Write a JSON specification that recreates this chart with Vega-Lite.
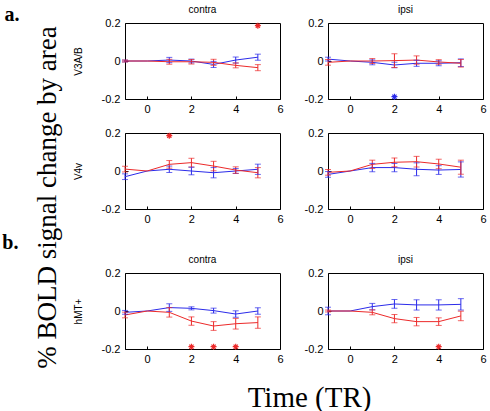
{
  "$schema": "https://vega.github.io/schema/vega-lite/v6.json",
  "padding": {"left": 2, "top": 4, "right": 6, "bottom": 2},
  "background": "#ffffff",
  "datasets": {
    "ts": [
      {"area":"V3A/B","side":"contra","series":"A","t":-1,"m":0,"lo":-0.005,"hi":0.005},
      {"area":"V3A/B","side":"contra","series":"A","t":0,"m":0},
      {"area":"V3A/B","side":"contra","series":"A","t":1,"m":0.005,"lo":-0.009,"hi":0.019},
      {"area":"V3A/B","side":"contra","series":"A","t":2,"m":0,"lo":-0.01,"hi":0.01},
      {"area":"V3A/B","side":"contra","series":"A","t":3,"m":-0.018,"lo":-0.034,"hi":-0.002},
      {"area":"V3A/B","side":"contra","series":"A","t":4,"m":0.005,"lo":-0.011,"hi":0.021},
      {"area":"V3A/B","side":"contra","series":"A","t":5,"m":0.02,"lo":0.004,"hi":0.036},
      {"area":"V3A/B","side":"contra","series":"B","t":-1,"m":0,"lo":-0.005,"hi":0.005},
      {"area":"V3A/B","side":"contra","series":"B","t":0,"m":0},
      {"area":"V3A/B","side":"contra","series":"B","t":1,"m":-0.004,"lo":-0.017,"hi":0.009},
      {"area":"V3A/B","side":"contra","series":"B","t":2,"m":-0.004,"lo":-0.016,"hi":0.008},
      {"area":"V3A/B","side":"contra","series":"B","t":3,"m":-0.007,"lo":-0.023,"hi":0.009},
      {"area":"V3A/B","side":"contra","series":"B","t":4,"m":-0.023,"lo":-0.036,"hi":-0.01},
      {"area":"V3A/B","side":"contra","series":"B","t":5,"m":-0.035,"lo":-0.051,"hi":-0.019},
      {"area":"V3A/B","side":"contra","series":"B","t":5,"star":0.186},

      {"area":"V3A/B","side":"ipsi","series":"A","t":-1,"m":0.01,"lo":0.0,"hi":0.02},
      {"area":"V3A/B","side":"ipsi","series":"A","t":0,"m":0},
      {"area":"V3A/B","side":"ipsi","series":"A","t":1,"m":-0.007,"lo":-0.02,"hi":0.006},
      {"area":"V3A/B","side":"ipsi","series":"A","t":2,"m":-0.021,"lo":-0.035,"hi":-0.007},
      {"area":"V3A/B","side":"ipsi","series":"A","t":3,"m":-0.012,"lo":-0.028,"hi":0.004},
      {"area":"V3A/B","side":"ipsi","series":"A","t":4,"m":-0.012,"lo":-0.025,"hi":0.001},
      {"area":"V3A/B","side":"ipsi","series":"A","t":5,"m":-0.009,"lo":-0.029,"hi":0.011},
      {"area":"V3A/B","side":"ipsi","series":"B","t":-1,"m":-0.007,"lo":-0.022,"hi":0.008},
      {"area":"V3A/B","side":"ipsi","series":"B","t":0,"m":0},
      {"area":"V3A/B","side":"ipsi","series":"B","t":1,"m":0,"lo":-0.013,"hi":0.013},
      {"area":"V3A/B","side":"ipsi","series":"B","t":2,"m":0.002,"lo":-0.034,"hi":0.038},
      {"area":"V3A/B","side":"ipsi","series":"B","t":3,"m":0.005,"lo":-0.017,"hi":0.027},
      {"area":"V3A/B","side":"ipsi","series":"B","t":4,"m":-0.005,"lo":-0.017,"hi":0.007},
      {"area":"V3A/B","side":"ipsi","series":"B","t":5,"m":-0.012,"lo":-0.032,"hi":0.008},
      {"area":"V3A/B","side":"ipsi","series":"A","t":2,"star":-0.188},

      {"area":"V4v","side":"contra","series":"A","t":-1,"m":-0.03,"lo":-0.045,"hi":-0.015},
      {"area":"V4v","side":"contra","series":"A","t":0,"m":0},
      {"area":"V4v","side":"contra","series":"A","t":1,"m":0.009,"lo":-0.008,"hi":0.026},
      {"area":"V4v","side":"contra","series":"A","t":2,"m":0,"lo":-0.02,"hi":0.02},
      {"area":"V4v","side":"contra","series":"A","t":3,"m":-0.009,"lo":-0.036,"hi":0.018},
      {"area":"V4v","side":"contra","series":"A","t":4,"m":0,"lo":-0.013,"hi":0.013},
      {"area":"V4v","side":"contra","series":"A","t":5,"m":0.009,"lo":-0.018,"hi":0.036},
      {"area":"V4v","side":"contra","series":"B","t":-1,"m":0.01,"lo":-0.005,"hi":0.025},
      {"area":"V4v","side":"contra","series":"B","t":0,"m":0},
      {"area":"V4v","side":"contra","series":"B","t":1,"m":0.035,"lo":0.015,"hi":0.055},
      {"area":"V4v","side":"contra","series":"B","t":2,"m":0.044,"lo":0.021,"hi":0.067},
      {"area":"V4v","side":"contra","series":"B","t":3,"m":0.026,"lo":0.001,"hi":0.051},
      {"area":"V4v","side":"contra","series":"B","t":4,"m":0.005,"lo":-0.012,"hi":0.022},
      {"area":"V4v","side":"contra","series":"B","t":5,"m":-0.009,"lo":-0.036,"hi":0.018},
      {"area":"V4v","side":"contra","series":"B","t":1,"star":0.186},

      {"area":"V4v","side":"ipsi","series":"A","t":-1,"m":-0.018,"lo":-0.033,"hi":-0.003},
      {"area":"V4v","side":"ipsi","series":"A","t":0,"m":0},
      {"area":"V4v","side":"ipsi","series":"A","t":1,"m":0.018,"lo":-0.004,"hi":0.04},
      {"area":"V4v","side":"ipsi","series":"A","t":2,"m":0.018,"lo":-0.004,"hi":0.04},
      {"area":"V4v","side":"ipsi","series":"A","t":3,"m":0.009,"lo":-0.025,"hi":0.043},
      {"area":"V4v","side":"ipsi","series":"A","t":4,"m":0.005,"lo":-0.018,"hi":0.028},
      {"area":"V4v","side":"ipsi","series":"A","t":5,"m":0.008,"lo":-0.032,"hi":0.048},
      {"area":"V4v","side":"ipsi","series":"B","t":-1,"m":-0.007,"lo":-0.022,"hi":0.008},
      {"area":"V4v","side":"ipsi","series":"B","t":0,"m":0},
      {"area":"V4v","side":"ipsi","series":"B","t":1,"m":0.035,"lo":0.013,"hi":0.057},
      {"area":"V4v","side":"ipsi","series":"B","t":2,"m":0.046,"lo":0.023,"hi":0.069},
      {"area":"V4v","side":"ipsi","series":"B","t":3,"m":0.049,"lo":0.021,"hi":0.077},
      {"area":"V4v","side":"ipsi","series":"B","t":4,"m":0.037,"lo":0.012,"hi":0.062},
      {"area":"V4v","side":"ipsi","series":"B","t":5,"m":0.02,"lo":-0.017,"hi":0.057},

      {"area":"hMT+","side":"contra","series":"A","t":-1,"m":-0.007,"lo":-0.017,"hi":0.003},
      {"area":"hMT+","side":"contra","series":"A","t":0,"m":0},
      {"area":"hMT+","side":"contra","series":"A","t":1,"m":0.018,"lo":-0.002,"hi":0.038},
      {"area":"hMT+","side":"contra","series":"A","t":2,"m":0.014,"lo":0.006,"hi":0.022},
      {"area":"hMT+","side":"contra","series":"A","t":3,"m":0.002,"lo":-0.011,"hi":0.015},
      {"area":"hMT+","side":"contra","series":"A","t":4,"m":-0.016,"lo":-0.033,"hi":0.001},
      {"area":"hMT+","side":"contra","series":"A","t":5,"m":0,"lo":-0.017,"hi":0.017},
      {"area":"hMT+","side":"contra","series":"B","t":-1,"m":-0.021,"lo":-0.036,"hi":-0.006},
      {"area":"hMT+","side":"contra","series":"B","t":0,"m":0},
      {"area":"hMT+","side":"contra","series":"B","t":1,"m":-0.007,"lo":-0.032,"hi":0.018},
      {"area":"hMT+","side":"contra","series":"B","t":2,"m":-0.053,"lo":-0.075,"hi":-0.031},
      {"area":"hMT+","side":"contra","series":"B","t":3,"m":-0.079,"lo":-0.102,"hi":-0.056},
      {"area":"hMT+","side":"contra","series":"B","t":4,"m":-0.067,"lo":-0.095,"hi":-0.039},
      {"area":"hMT+","side":"contra","series":"B","t":5,"m":-0.061,"lo":-0.091,"hi":-0.031},
      {"area":"hMT+","side":"contra","series":"B","t":2,"star":-0.188},
      {"area":"hMT+","side":"contra","series":"B","t":3,"star":-0.188},
      {"area":"hMT+","side":"contra","series":"B","t":4,"star":-0.188},

      {"area":"hMT+","side":"ipsi","series":"A","t":-1,"m":0,"lo":-0.02,"hi":0.02},
      {"area":"hMT+","side":"ipsi","series":"A","t":0,"m":0},
      {"area":"hMT+","side":"ipsi","series":"A","t":1,"m":0.023,"lo":0.006,"hi":0.04},
      {"area":"hMT+","side":"ipsi","series":"A","t":2,"m":0.037,"lo":0.014,"hi":0.06},
      {"area":"hMT+","side":"ipsi","series":"A","t":3,"m":0.032,"lo":0.005,"hi":0.059},
      {"area":"hMT+","side":"ipsi","series":"A","t":4,"m":0.032,"lo":0.005,"hi":0.059},
      {"area":"hMT+","side":"ipsi","series":"A","t":5,"m":0.035,"lo":0.005,"hi":0.065},
      {"area":"hMT+","side":"ipsi","series":"B","t":-1,"m":0,"lo":-0.005,"hi":0.005},
      {"area":"hMT+","side":"ipsi","series":"B","t":0,"m":0},
      {"area":"hMT+","side":"ipsi","series":"B","t":1,"m":-0.007,"lo":-0.02,"hi":0.006},
      {"area":"hMT+","side":"ipsi","series":"B","t":2,"m":-0.04,"lo":-0.062,"hi":-0.018},
      {"area":"hMT+","side":"ipsi","series":"B","t":3,"m":-0.056,"lo":-0.078,"hi":-0.034},
      {"area":"hMT+","side":"ipsi","series":"B","t":4,"m":-0.056,"lo":-0.076,"hi":-0.036},
      {"area":"hMT+","side":"ipsi","series":"B","t":5,"m":-0.026,"lo":-0.051,"hi":-0.001},
      {"area":"hMT+","side":"ipsi","series":"B","t":4,"star":-0.188}
    ]
  },
  "title": {"text": "% BOLD signal change by area", "orient": "left", "anchor": "middle", "font": "Liberation Serif", "fontSize": 27, "fontWeight": "normal", "color": "#000", "offset": -60, "dx": 11},
  "spacing": 7,
  "vconcat": [
    {
      "title": {"text": "a.", "orient": "left", "anchor": "end", "angle": 0, "align": "right", "baseline": "top", "offset": 38, "dy": 0, "font": "Liberation Serif", "fontSize": 20, "fontWeight": "bold", "color": "#000"},
      "spacing": 11,
      "vconcat": [
        {
          "spacing": 19,
          "hconcat": [
            {
              "width": 155, "height": 76, "title": "contra",
              "data": {"name": "ts"},
              "transform": [{"filter": "datum.area === 'V3A/B' && datum.side === 'contra'"}],
              "encoding": {
                "x": {"field": "t", "type": "quantitative", "scale": {"domain": [-1, 6], "nice": false, "zero": false}, "axis": {"tickCount": 4, "title": null}},
                "color": {"field": "series", "type": "nominal", "scale": {"domain": ["A", "B"], "range": ["#2b2bea", "#ec2a2a"]}, "legend": null}
              },
              "layer": [
                {"transform": [{"filter": "isValid(datum.m)"}], "mark": {"type": "line", "strokeWidth": 1}, "encoding": {"y": {"field": "m", "type": "quantitative", "title": "V3A/B", "scale": {"domain": [-0.2, 0.2], "nice": false, "zero": false}, "axis": {"tickCount": 2, "format": ".1~f"}}}},
                {"transform": [{"filter": "isValid(datum.lo)"}], "mark": {"type": "rule", "strokeWidth": 1}, "encoding": {"y": {"field": "lo", "type": "quantitative", "title": "V3A/B"}, "y2": {"field": "hi"}}},
                {"transform": [{"filter": "isValid(datum.lo)"}], "mark": {"type": "tick", "orient": "horizontal", "size": 6, "thickness": 1}, "encoding": {"y": {"field": "lo", "type": "quantitative", "title": "V3A/B"}}},
                {"transform": [{"filter": "isValid(datum.hi)"}], "mark": {"type": "tick", "orient": "horizontal", "size": 6, "thickness": 1}, "encoding": {"y": {"field": "hi", "type": "quantitative", "title": "V3A/B"}}},
                {"transform": [{"filter": "isValid(datum.star)"}], "mark": {"type": "point", "shape": "M-1,0L1,0M0,-1L0,1M-0.7,-0.7L0.7,0.7M-0.7,0.7L0.7,-0.7", "size": 36, "filled": false, "strokeWidth": 1.2, "opacity": 1}, "encoding": {"y": {"field": "star", "type": "quantitative", "title": "V3A/B"}}}
              ]
            },
            {
              "width": 155, "height": 76, "title": "ipsi",
              "data": {"name": "ts"},
              "transform": [{"filter": "datum.area === 'V3A/B' && datum.side === 'ipsi'"}],
              "encoding": {
                "x": {"field": "t", "type": "quantitative", "scale": {"domain": [-1, 6], "nice": false, "zero": false}, "axis": {"tickCount": 4, "title": null}},
                "color": {"field": "series", "type": "nominal", "scale": {"domain": ["A", "B"], "range": ["#2b2bea", "#ec2a2a"]}, "legend": null}
              },
              "layer": [
                {"transform": [{"filter": "isValid(datum.m)"}], "mark": {"type": "line", "strokeWidth": 1}, "encoding": {"y": {"field": "m", "type": "quantitative", "title": null, "scale": {"domain": [-0.2, 0.2], "nice": false, "zero": false}, "axis": {"tickCount": 2, "format": ".1~f"}}}},
                {"transform": [{"filter": "isValid(datum.lo)"}], "mark": {"type": "rule", "strokeWidth": 1}, "encoding": {"y": {"field": "lo", "type": "quantitative", "title": null}, "y2": {"field": "hi"}}},
                {"transform": [{"filter": "isValid(datum.lo)"}], "mark": {"type": "tick", "orient": "horizontal", "size": 6, "thickness": 1}, "encoding": {"y": {"field": "lo", "type": "quantitative", "title": null}}},
                {"transform": [{"filter": "isValid(datum.hi)"}], "mark": {"type": "tick", "orient": "horizontal", "size": 6, "thickness": 1}, "encoding": {"y": {"field": "hi", "type": "quantitative", "title": null}}},
                {"transform": [{"filter": "isValid(datum.star)"}], "mark": {"type": "point", "shape": "M-1,0L1,0M0,-1L0,1M-0.7,-0.7L0.7,0.7M-0.7,0.7L0.7,-0.7", "size": 36, "filled": false, "strokeWidth": 1.2, "opacity": 1}, "encoding": {"y": {"field": "star", "type": "quantitative", "title": null}}}
              ]
            }
          ]
        },
        {
          "spacing": 19,
          "hconcat": [
            {
              "width": 155, "height": 76,
              "data": {"name": "ts"},
              "transform": [{"filter": "datum.area === 'V4v' && datum.side === 'contra'"}],
              "encoding": {
                "x": {"field": "t", "type": "quantitative", "scale": {"domain": [-1, 6], "nice": false, "zero": false}, "axis": {"tickCount": 4, "title": null}},
                "color": {"field": "series", "type": "nominal", "scale": {"domain": ["A", "B"], "range": ["#2b2bea", "#ec2a2a"]}, "legend": null}
              },
              "layer": [
                {"transform": [{"filter": "isValid(datum.m)"}], "mark": {"type": "line", "strokeWidth": 1}, "encoding": {"y": {"field": "m", "type": "quantitative", "title": "V4v", "scale": {"domain": [-0.2, 0.2], "nice": false, "zero": false}, "axis": {"tickCount": 2, "format": ".1~f"}}}},
                {"transform": [{"filter": "isValid(datum.lo)"}], "mark": {"type": "rule", "strokeWidth": 1}, "encoding": {"y": {"field": "lo", "type": "quantitative", "title": "V4v"}, "y2": {"field": "hi"}}},
                {"transform": [{"filter": "isValid(datum.lo)"}], "mark": {"type": "tick", "orient": "horizontal", "size": 6, "thickness": 1}, "encoding": {"y": {"field": "lo", "type": "quantitative", "title": "V4v"}}},
                {"transform": [{"filter": "isValid(datum.hi)"}], "mark": {"type": "tick", "orient": "horizontal", "size": 6, "thickness": 1}, "encoding": {"y": {"field": "hi", "type": "quantitative", "title": "V4v"}}},
                {"transform": [{"filter": "isValid(datum.star)"}], "mark": {"type": "point", "shape": "M-1,0L1,0M0,-1L0,1M-0.7,-0.7L0.7,0.7M-0.7,0.7L0.7,-0.7", "size": 36, "filled": false, "strokeWidth": 1.2, "opacity": 1}, "encoding": {"y": {"field": "star", "type": "quantitative", "title": "V4v"}}}
              ]
            },
            {
              "width": 155, "height": 76,
              "data": {"name": "ts"},
              "transform": [{"filter": "datum.area === 'V4v' && datum.side === 'ipsi'"}],
              "encoding": {
                "x": {"field": "t", "type": "quantitative", "scale": {"domain": [-1, 6], "nice": false, "zero": false}, "axis": {"tickCount": 4, "title": null}},
                "color": {"field": "series", "type": "nominal", "scale": {"domain": ["A", "B"], "range": ["#2b2bea", "#ec2a2a"]}, "legend": null}
              },
              "layer": [
                {"transform": [{"filter": "isValid(datum.m)"}], "mark": {"type": "line", "strokeWidth": 1}, "encoding": {"y": {"field": "m", "type": "quantitative", "title": null, "scale": {"domain": [-0.2, 0.2], "nice": false, "zero": false}, "axis": {"tickCount": 2, "format": ".1~f"}}}},
                {"transform": [{"filter": "isValid(datum.lo)"}], "mark": {"type": "rule", "strokeWidth": 1}, "encoding": {"y": {"field": "lo", "type": "quantitative", "title": null}, "y2": {"field": "hi"}}},
                {"transform": [{"filter": "isValid(datum.lo)"}], "mark": {"type": "tick", "orient": "horizontal", "size": 6, "thickness": 1}, "encoding": {"y": {"field": "lo", "type": "quantitative", "title": null}}},
                {"transform": [{"filter": "isValid(datum.hi)"}], "mark": {"type": "tick", "orient": "horizontal", "size": 6, "thickness": 1}, "encoding": {"y": {"field": "hi", "type": "quantitative", "title": null}}},
                {"transform": [{"filter": "isValid(datum.star)"}], "mark": {"type": "point", "shape": "M-1,0L1,0M0,-1L0,1M-0.7,-0.7L0.7,0.7M-0.7,0.7L0.7,-0.7", "size": 36, "filled": false, "strokeWidth": 1.2, "opacity": 1}, "encoding": {"y": {"field": "star", "type": "quantitative", "title": null}}}
              ]
            }
          ]
        }
      ]
    },
    {
      "title": {"text": "b.", "orient": "left", "anchor": "end", "angle": 0, "align": "right", "baseline": "top", "offset": 38, "dy": -22, "font": "Liberation Serif", "fontSize": 20, "fontWeight": "bold", "color": "#000"},
      "vconcat": [
        {
          "title": {"text": "Time (TR)", "orient": "bottom", "anchor": "middle", "font": "Liberation Serif", "fontSize": 29, "fontWeight": "normal", "color": "#000", "offset": 19, "dx": 30},
          "spacing": 19,
          "hconcat": [
            {
              "width": 155, "height": 76, "title": "contra",
              "data": {"name": "ts"},
              "transform": [{"filter": "datum.area === 'hMT+' && datum.side === 'contra'"}],
              "encoding": {
                "x": {"field": "t", "type": "quantitative", "scale": {"domain": [-1, 6], "nice": false, "zero": false}, "axis": {"tickCount": 4, "title": null}},
                "color": {"field": "series", "type": "nominal", "scale": {"domain": ["A", "B"], "range": ["#2b2bea", "#ec2a2a"]}, "legend": null}
              },
              "layer": [
                {"transform": [{"filter": "isValid(datum.m)"}], "mark": {"type": "line", "strokeWidth": 1}, "encoding": {"y": {"field": "m", "type": "quantitative", "title": "hMT+", "scale": {"domain": [-0.2, 0.2], "nice": false, "zero": false}, "axis": {"tickCount": 2, "format": ".1~f"}}}},
                {"transform": [{"filter": "isValid(datum.lo)"}], "mark": {"type": "rule", "strokeWidth": 1}, "encoding": {"y": {"field": "lo", "type": "quantitative", "title": "hMT+"}, "y2": {"field": "hi"}}},
                {"transform": [{"filter": "isValid(datum.lo)"}], "mark": {"type": "tick", "orient": "horizontal", "size": 6, "thickness": 1}, "encoding": {"y": {"field": "lo", "type": "quantitative", "title": "hMT+"}}},
                {"transform": [{"filter": "isValid(datum.hi)"}], "mark": {"type": "tick", "orient": "horizontal", "size": 6, "thickness": 1}, "encoding": {"y": {"field": "hi", "type": "quantitative", "title": "hMT+"}}},
                {"transform": [{"filter": "isValid(datum.star)"}], "mark": {"type": "point", "shape": "M-1,0L1,0M0,-1L0,1M-0.7,-0.7L0.7,0.7M-0.7,0.7L0.7,-0.7", "size": 36, "filled": false, "strokeWidth": 1.2, "opacity": 1}, "encoding": {"y": {"field": "star", "type": "quantitative", "title": "hMT+"}}}
              ]
            },
            {
              "width": 155, "height": 76, "title": "ipsi",
              "data": {"name": "ts"},
              "transform": [{"filter": "datum.area === 'hMT+' && datum.side === 'ipsi'"}],
              "encoding": {
                "x": {"field": "t", "type": "quantitative", "scale": {"domain": [-1, 6], "nice": false, "zero": false}, "axis": {"tickCount": 4, "title": null}},
                "color": {"field": "series", "type": "nominal", "scale": {"domain": ["A", "B"], "range": ["#2b2bea", "#ec2a2a"]}, "legend": null}
              },
              "layer": [
                {"transform": [{"filter": "isValid(datum.m)"}], "mark": {"type": "line", "strokeWidth": 1}, "encoding": {"y": {"field": "m", "type": "quantitative", "title": null, "scale": {"domain": [-0.2, 0.2], "nice": false, "zero": false}, "axis": {"tickCount": 2, "format": ".1~f"}}}},
                {"transform": [{"filter": "isValid(datum.lo)"}], "mark": {"type": "rule", "strokeWidth": 1}, "encoding": {"y": {"field": "lo", "type": "quantitative", "title": null}, "y2": {"field": "hi"}}},
                {"transform": [{"filter": "isValid(datum.lo)"}], "mark": {"type": "tick", "orient": "horizontal", "size": 6, "thickness": 1}, "encoding": {"y": {"field": "lo", "type": "quantitative", "title": null}}},
                {"transform": [{"filter": "isValid(datum.hi)"}], "mark": {"type": "tick", "orient": "horizontal", "size": 6, "thickness": 1}, "encoding": {"y": {"field": "hi", "type": "quantitative", "title": null}}},
                {"transform": [{"filter": "isValid(datum.star)"}], "mark": {"type": "point", "shape": "M-1,0L1,0M0,-1L0,1M-0.7,-0.7L0.7,0.7M-0.7,0.7L0.7,-0.7", "size": 36, "filled": false, "strokeWidth": 1.2, "opacity": 1}, "encoding": {"y": {"field": "star", "type": "quantitative", "title": null}}}
              ]
            }
          ]
        }
      ]
    }
  ],
  "config": {
    "locale": {"number": {"decimal": ".", "thousands": ",", "grouping": [3], "currency": ["$", ""], "minus": "-"}},
    "view": {"stroke": "#000", "strokeWidth": 1},
    "axis": {"grid": false, "domain": false, "tickColor": "#000", "tickSize": -3, "tickWidth": 1, "labelFont": "Liberation Sans", "labelFontSize": 11, "labelColor": "#000", "labelOverlap": false, "titleFont": "Liberation Sans", "titleFontSize": 10, "titleFontWeight": "normal", "titleColor": "#000"},
    "axisX": {"labelPadding": 7, "labelFlush": false},
    "axisY": {"labelPadding": 8, "titlePadding": 18},
    "title": {"font": "Liberation Sans", "fontSize": 10, "fontWeight": "normal", "color": "#000", "offset": 2}
  }
}
